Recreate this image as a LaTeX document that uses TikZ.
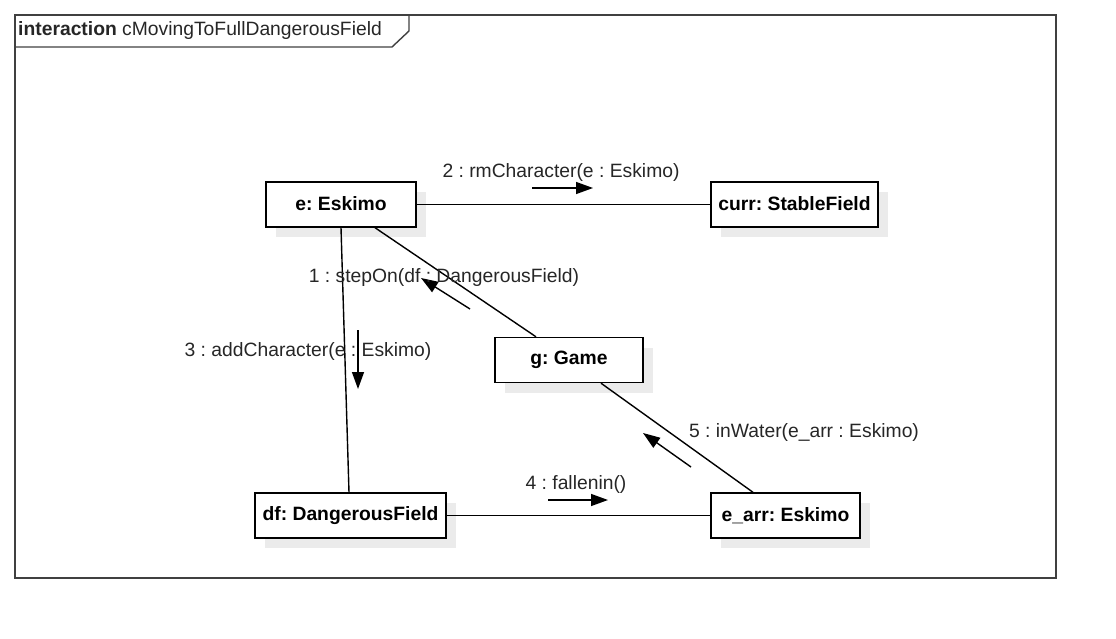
\documentclass[tikz,border=0pt]{standalone}
\usepackage{fontspec}
\setmainfont{Liberation Sans}
\frenchspacing
\usetikzlibrary{arrows.meta,shadows}
\begin{document}
\begin{tikzpicture}[x=1pt,y=-1pt,
  lbl/.style={font=\fontsize{19.3}{22}\selectfont, text=black!85, inner sep=0pt},
  obj/.style={draw, fill=white, line width=1.4pt, inner sep=0pt,
    font=\bfseries\fontsize{19.3}{22}\selectfont, minimum height=45pt,
    drop shadow={shadow xshift=10pt, shadow yshift=-10pt, fill=black!8, opacity=1}},
  link/.style={line width=1.4pt},
  msg/.style={line width=1.4pt, -{Triangle[length=17pt,width=12pt]}},
  frame/.style={line width=1.4pt, draw=black!75}]
\useasboundingbox (0,0) rectangle (1116,639);
% frame
\draw[frame] (15,15) rectangle (1056,578);
\draw[frame] (15,47) -- (392,47) -- (409,31) -- (409,15);
\node[lbl, anchor=west] (title) at (18,31) {\textbf{interaction} cMovingToFullDangerousField};
% objects
\node[obj, minimum width=150pt] (e) at (341,204.5) {\raisebox{1.5pt}{e: Eskimo}};
\node[obj, minimum width=167pt] (curr) at (794.5,204.5) {\raisebox{1.5pt}{curr: StableField}};
\node[obj, minimum width=148pt] (g) at (569,360) {\raisebox{1.5pt}{g: Game}};
\node[obj, minimum width=191pt] (df) at (350.5,515.5) {\raisebox{1.5pt}{df: DangerousField}};
\node[obj, minimum width=149pt] (earr) at (785.5,515.5) {\raisebox{1.5pt}{e\_arr: Eskimo}};
% links
\draw[link] (e.east) -- (curr.west);
\draw[link] ([xshift=34pt]e.south) -- ([xshift=-33pt]g.north);
\draw[link] (e.south) -- ([xshift=-1.5pt]df.north);
\draw[link] (df.east) -- (earr.west);
\draw[link] ([xshift=32pt]g.south) -- ([xshift=-32.5pt]earr.north);
% messages
\coordinate (m2a) at (532,188); \coordinate (m2b) at (593,188);
\draw[msg] (m2a) -- (m2b);
\node[lbl] (l2) at (561,173) {2 : rmCharacter(e : Eskimo)};
\coordinate (m1a) at (470,309); \coordinate (m1b) at (421,278);
\draw[msg] (m1a) -- (m1b);
\node[lbl] (l1) at (444,278) {1 : stepOn(df : DangerousField)};
\coordinate (m3a) at (358,330); \coordinate (m3b) at (358,389);
\draw[msg] (m3a) -- (m3b);
\node[lbl] (l3) at (308,352) {3 : addCharacter(e : Eskimo)};
\coordinate (m4a) at (548,500); \coordinate (m4b) at (608,500);
\draw[msg] (m4a) -- (m4b);
\node[lbl] (l4) at (576,485) {4 : fallenin()};
\coordinate (m5a) at (691,467); \coordinate (m5b) at (643,433);
\draw[msg] (m5a) -- (m5b);
\node[lbl] (l5) at (804,433) {5 : inWater(e\_arr : Eskimo)};
\end{tikzpicture}
\end{document}
